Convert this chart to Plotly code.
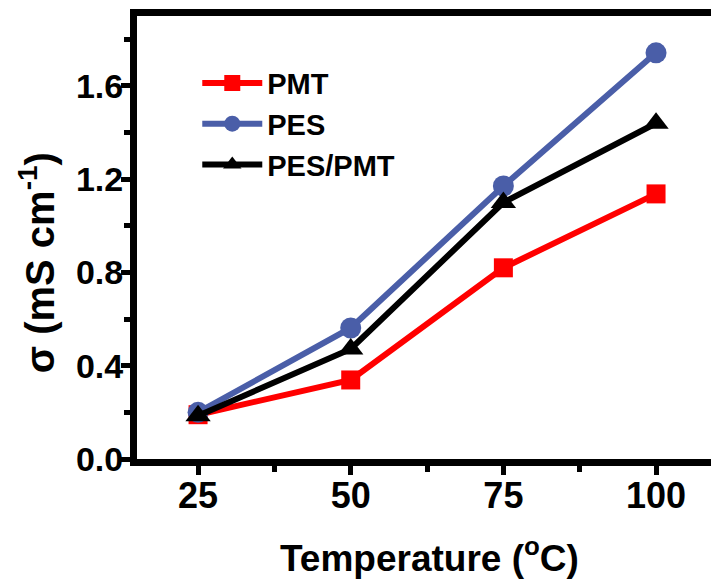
import plotly.graph_objects as go

temps = [25, 50, 75, 100]
pmt = [0.19, 0.339, 0.82, 1.137]
pes = [0.20, 0.562, 1.171, 1.742]
pes_pmt = [0.185, 0.472, 1.10, 1.44]

x_ticks = [25, 50, 75, 100]
x_minor = [37.5, 62.5, 87.5]
y_ticks = [0.0, 0.4, 0.8, 1.2, 1.6]
y_tick_text = ["0.0", "0.4", "0.8", "1.2", "1.6"]
y_minor = [0.2, 0.6, 1.0, 1.4, 1.8]

FONT = "Arial, Liberation Sans, sans-serif"

fig = go.Figure()
fig.add_trace(go.Scatter(x=temps, y=pmt, name="PMT", mode="lines+markers",
                         line=dict(color="#FF0000", width=6),
                         marker=dict(symbol="square", size=19, color="#FF0000")))
fig.add_trace(go.Scatter(x=temps, y=pes, name="PES", mode="lines+markers",
                         line=dict(color="#4A5EA8", width=6),
                         marker=dict(symbol="circle", size=21, color="#4A5EA8")))
fig.add_trace(go.Scatter(x=temps, y=pes_pmt, name="PES/PMT", mode="lines+markers",
                         line=dict(color="#000000", width=6),
                         marker=dict(symbol="triangle-up", size=22, color="#000000")))

fig.update_layout(
    width=711, height=580,
    margin=dict(l=137, r=0, t=16, b=121),
    paper_bgcolor="white", plot_bgcolor="white",
    font=dict(family=FONT, color="black", size=30, weight="bold"),
    showlegend=True,
    legend=dict(x=0.105, y=0.906, xanchor="left", yanchor="top",
                bgcolor="rgba(0,0,0,0)", font=dict(size=29, weight="bold"),
                itemwidth=60, tracegroupgap=0),
    xaxis=dict(range=[15, 109], tickvals=x_ticks, ticktext=[str(v) for v in x_ticks],
               showgrid=False, zeroline=False, showline=True, linecolor="black", linewidth=7,
               mirror=True, ticks="outside", ticklen=9, tickwidth=5, tickcolor="black",
               tickfont=dict(size=36, weight="bold"), ticklabelstandoff=-10,
               minor=dict(tickvals=x_minor, ticks="outside", ticklen=6, tickwidth=5, tickcolor="black")),
    yaxis=dict(range=[0, 1.9], tickvals=y_ticks, ticktext=y_tick_text,
               showgrid=False, zeroline=False, showline=True, linecolor="black", linewidth=7,
               mirror=False, ticks="outside", ticklen=9, tickwidth=5, tickcolor="black",
               tickfont=dict(size=34, weight="bold"), ticklabelstandoff=-9,
               minor=dict(tickvals=y_minor, ticks="outside", ticklen=6, tickwidth=5, tickcolor="black")),
    annotations=[
        dict(text="Temperature (<sup>o</sup>C)", xref="paper", yref="paper",
             x=0.509, y=-0.217, xanchor="center", yanchor="middle", showarrow=False,
             font=dict(size=37, weight="bold")),
        dict(text="σ (mS cm<sup>-1</sup>)", xref="paper", yref="paper",
             x=-0.174, y=0.442, xanchor="center", yanchor="middle", showarrow=False,
             textangle=-90, font=dict(size=40, weight="bold")),
    ],
)

fig.write_html("out.html")
